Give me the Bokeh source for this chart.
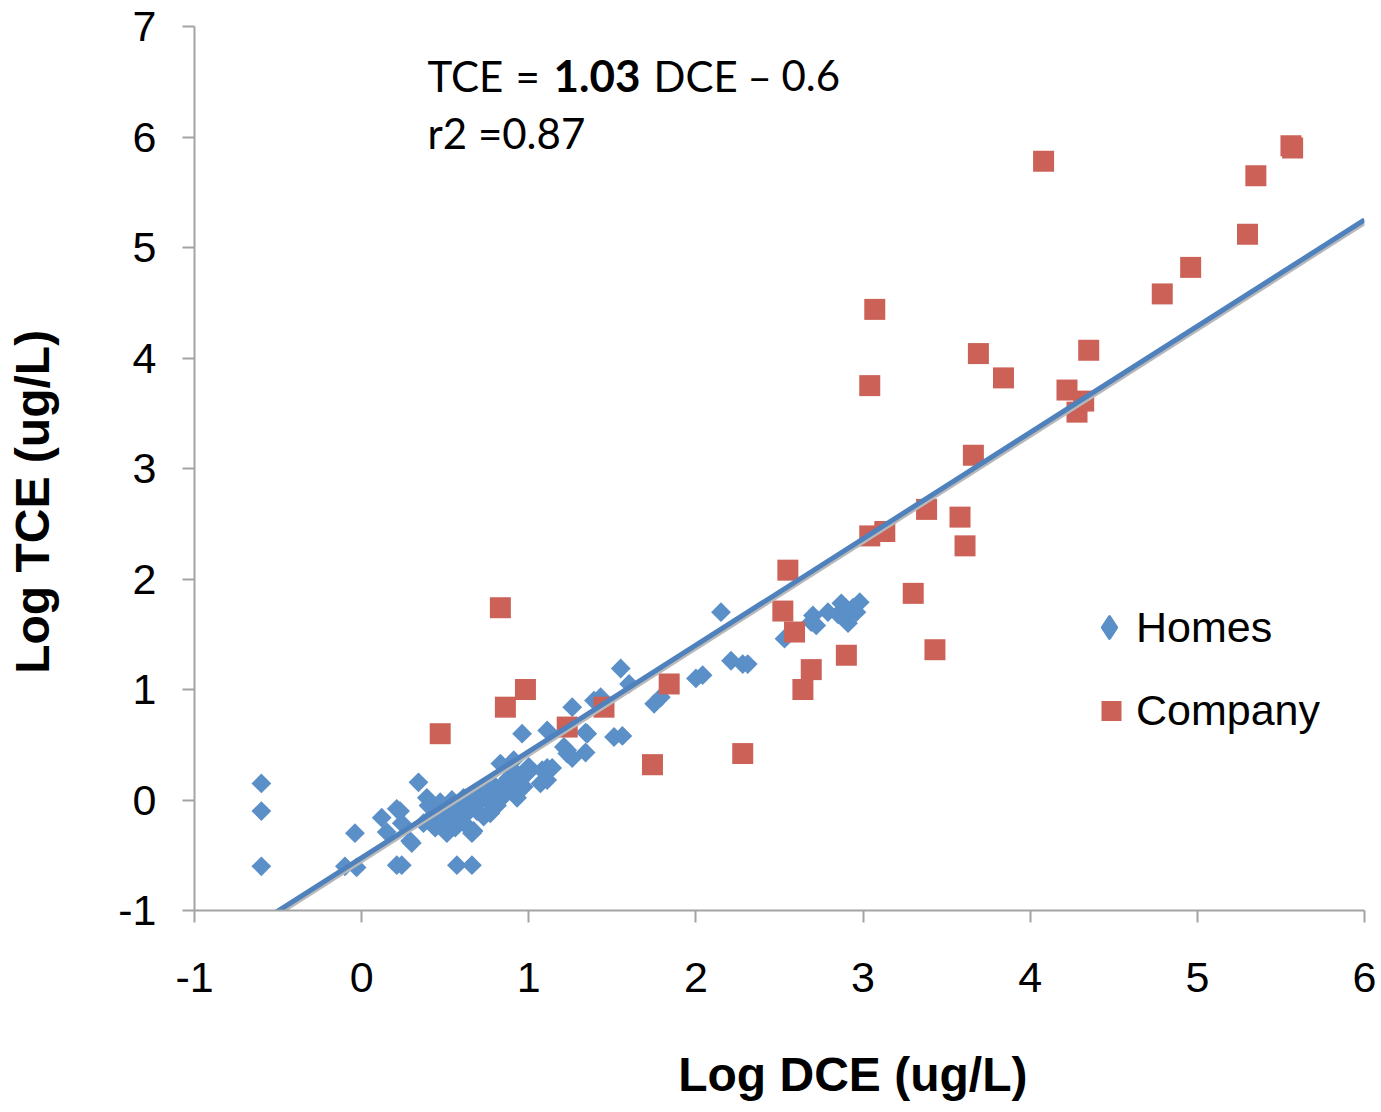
import math
import numpy as np
from bokeh.plotting import figure
from bokeh.models import Range1d, Label, Legend, LegendItem, PrintfTickFormatter
from bokeh.embed import file_html
from bokeh.resources import INLINE

# ---------------- data ----------------
homes_x = [-0.60, -0.60, -0.60, -0.10, -0.03, -0.04,
           0.12, 0.15, 0.21, 0.21, 0.24, 0.24, 0.23, 0.29, 0.30,
           0.34, 0.37, 0.39, 0.40, 0.42, 0.44, 0.45, 0.47, 0.48, 0.50,
           0.51, 0.52, 0.54, 0.55, 0.56, 0.57, 0.58, 0.60, 0.61, 0.62,
           0.63, 0.64, 0.66, 0.66, 0.67, 0.68, 0.69, 0.70, 0.72, 0.73,
           0.75, 0.76, 0.77, 0.78, 0.80, 0.81, 0.83, 0.84, 0.85, 0.87,
           0.88, 0.90, 0.91, 0.92, 0.93, 0.95, 0.96, 0.97, 0.99, 1.00,
           1.07, 1.08, 1.11, 1.11, 1.11, 1.14, 1.21, 1.23, 1.23, 1.26,
           1.26, 1.34, 1.34, 1.35, 1.39, 1.43, 1.51, 1.55, 1.56, 1.60,
           1.75, 1.79, 2.00, 2.04, 2.15, 2.21, 2.28, 2.31, 2.53, 2.69,
           2.70, 2.72, 2.79, 2.85, 2.87, 2.91, 2.91, 2.94, 2.96, 2.98]
homes_y = [0.15, -0.10, -0.60, -0.60, -0.61, -0.30,
           -0.16, -0.29, -0.08, -0.59, -0.59, -0.21, -0.10, -0.37, -0.39,
           0.16, -0.21, 0.02, -0.05, -0.15, -0.25, -0.10, -0.02, -0.20, -0.12,
           -0.30, -0.05, 0.00, -0.18, -0.25, -0.59, -0.08, -0.15, 0.02, -0.22,
           -0.12, -0.05, -0.59, -0.30, -0.28, 0.05, -0.10, -0.02, 0.08, -0.15,
           0.00, 0.10, -0.12, 0.05, 0.12, -0.05, 0.33, 0.02, 0.15, 0.08,
           0.20, 0.10, 0.36, 0.25, 0.02, 0.18, 0.60, 0.12, 0.24, 0.30,
           0.15, 0.27, 0.18, 0.29, 0.63, 0.29, 0.48, 0.42, 0.45, 0.38,
           0.84, 0.61, 0.43, 0.60, 0.90, 0.93, 0.57, 1.19, 0.58, 1.05,
           0.87, 0.93, 1.10, 1.13, 1.70, 1.26, 1.23, 1.23, 1.46, 1.61,
           1.67, 1.58, 1.70, 1.68, 1.78, 1.69, 1.60, 1.74, 1.70, 1.79]

company_x = [0.47, 0.83, 0.86, 0.98, 1.23, 1.45, 1.74, 1.84, 2.28, 2.52,
             2.55, 2.59, 2.64, 2.69, 2.90, 3.04, 3.07, 3.04, 3.13, 3.30,
             3.38, 3.43, 3.58, 3.61, 3.66, 3.69, 3.84, 4.08, 4.22, 4.28,
             4.32, 4.35, 4.79, 4.96, 5.30, 5.35, 5.56, 5.57]
company_y = [0.60, 1.74, 0.84, 1.00, 0.66, 0.84, 0.32, 1.05, 0.42, 1.71,
             2.08, 1.52, 1.00, 1.18, 1.31, 3.75, 4.44, 2.39, 2.43, 1.87,
             2.63, 1.36, 2.56, 2.30, 3.12, 4.04, 3.82, 5.78, 3.71, 3.51,
             3.61, 4.07, 4.58, 4.82, 5.12, 5.65, 5.92, 5.90]

trend_x = [-0.60, 6.00]
trend_y = [-1.10, 5.25]

x_ticks = [-1, 0, 1, 2, 3, 4, 5, 6]
y_ticks = [-1, 0, 1, 2, 3, 4, 5, 6, 7]

HOMES_COLOR = "#5a8fc8"
COMPANY_COLOR = "#cc6158"
AXIS_COLOR = "#a3a3a3"
FONT = "Liberation Sans"
NB = "\u00a0"

# ---------------- figure ----------------
p = figure(frame_width=1170, frame_height=884,
           min_border_left=194, min_border_right=13,
           min_border_top=26, min_border_bottom=198,
           x_range=Range1d(-1, 6), y_range=Range1d(-1, 7),
           output_backend="svg", toolbar_location=None)
p.outline_line_color = None
p.xgrid.visible = False
p.ygrid.visible = False
p.background_fill_color = "white"
p.border_fill_color = "white"

for ax, ticks in ((p.xaxis, x_ticks), (p.yaxis, y_ticks)):
    ax.ticker = ticks
    ax.formatter = PrintfTickFormatter(format="%d")
    ax.axis_line_color = AXIS_COLOR
    ax.axis_line_width = 2
    ax.major_tick_line_color = AXIS_COLOR
    ax.major_tick_line_width = 2
    ax.major_tick_in = 0
    ax.major_tick_out = 12
    ax.minor_tick_line_color = None
    ax.major_label_text_font = FONT
    ax.major_label_text_font_size = "43px"
    ax.major_label_text_color = "black"
    ax.axis_label_text_font = FONT
    ax.axis_label_text_font_size = "48px"
    ax.axis_label_text_font_style = "bold"
    ax.axis_label_text_color = "black"
p.xaxis.major_label_standoff = 40
p.yaxis.major_label_standoff = 26
# axis titles (padding shifts them off-centre like the original)
p.xaxis.axis_label = NB * 11 + "Log DCE (ug/L)"
p.yaxis.axis_label = "Log TCE (ug/L)" + NB * 5
p.xaxis.axis_label_standoff = 53
p.yaxis.axis_label_standoff = 56

r_homes = p.scatter(homes_x, homes_y, marker="square", angle=math.pi / 4, size=14,
                    fill_color=HOMES_COLOR, line_color=None)
r_comp = p.scatter(company_x, company_y, marker="square", size=21,
                   fill_color=COMPANY_COLOR, line_color=None)
# legend-only glyph for the diamond symbol (no visible data)
r_homes_leg = p.scatter(x=np.array([np.nan]), y=np.array([np.nan]), marker="diamond",
                        fill_color=HOMES_COLOR, line_color=HOMES_COLOR, line_width=3,
                        line_join="round")

# trendline (with faint grey shadow underneath)
p.line(trend_x, [v - 0.03 for v in trend_y], line_color="#b8b8b8", line_width=4)
p.line(trend_x, trend_y, line_color="#4f81bd", line_width=5)

leg_common = dict(orientation="vertical", label_standoff=0, spacing=0, padding=0,
                  margin=0, border_line_color=None, background_fill_alpha=0,
                  label_text_font=FONT, label_text_font_size="43px",
                  label_text_color="black")
legend_h = Legend(items=[LegendItem(label="Homes", renderers=[r_homes_leg])],
                  location=(888, 256), glyph_width=54, glyph_height=54, **leg_common)
legend_c = Legend(items=[LegendItem(label="Company", renderers=[r_comp])],
                  location=(892, 172), glyph_width=50, glyph_height=55, **leg_common)
p.add_layout(legend_h, "center")
p.add_layout(legend_c, "center")

# equation annotation
EQ_FONT = "Lato"
DY = 18
eq_parts = [("TCE", 427, "normal", "42px"), ("=", 515, "normal", "42px"),
            ("1.03", 553, "bold", "44px"), ("DCE", 653, "normal", "42px"),
            ("\u2013", 747, "normal", "42px"), ("0.6", 781, "normal", "42px")]
for txt, sx, style, fs in eq_parts:
    p.add_layout(Label(x=sx - 194, y=910 - 93 + DY, x_units="screen", y_units="screen",
                       text=txt, text_font=EQ_FONT, text_font_size=fs,
                       text_font_style=style, text_color="black",
                       text_align="left", text_baseline="alphabetic"))
p.add_layout(Label(x=427 - 194, y=910 - 150 + DY, x_units="screen", y_units="screen",
                   text="r2 =0.87", text_font=EQ_FONT, text_font_size="42px",
                   text_color="black", text_align="left", text_baseline="alphabetic"))

open("out.html", "w").write(file_html(p, INLINE))
